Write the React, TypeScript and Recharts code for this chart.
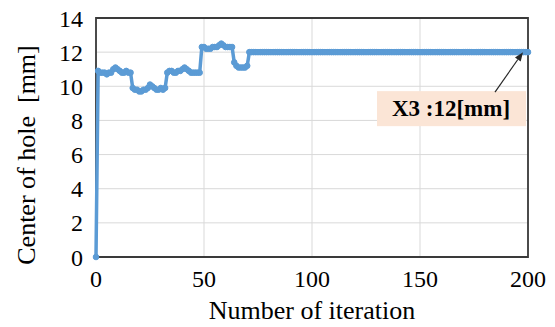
import {
  LineChart,
  Line,
  XAxis,
  YAxis,
  CartesianGrid,
  ReferenceArea,
  ReferenceDot,
} from 'recharts';

// center of hole X3 [mm] per iteration (0..200)
const centerHole = [
  0,
  10.9, 10.8, 10.8, 10.8, 10.7, 10.8, 10.8,
  11.0, 11.1, 11.0,
  10.9, 10.8, 10.8, 10.9, 10.8, 10.8,
  9.9, 9.8, 9.8, 9.7, 9.7, 9.8, 9.8, 9.9,
  10.1, 10.0,
  9.9, 9.8, 9.8, 9.9, 9.8, 9.9,
  10.8, 10.9, 10.9, 10.8, 10.8, 10.9, 10.9,
  11.0, 11.1, 11.0,
  10.9, 10.8, 10.8, 10.8, 10.8, 10.8,
  12.3, 12.3, 12.2, 12.2, 12.2, 12.3, 12.3, 12.3,
  12.4, 12.5, 12.4,
  12.3, 12.3, 12.3, 12.3,
  11.4, 11.2, 11.1, 11.1, 11.1, 11.1, 11.2,
  12, 12, 12, 12, 12, 12, 12, 12, 12, 12,
  12, 12, 12, 12, 12, 12, 12, 12, 12, 12,
  12, 12, 12, 12, 12, 12, 12, 12, 12, 12,
  12, 12, 12, 12, 12, 12, 12, 12, 12, 12,
  12, 12, 12, 12, 12, 12, 12, 12, 12, 12,
  12, 12, 12, 12, 12, 12, 12, 12, 12, 12,
  12, 12, 12, 12, 12, 12, 12, 12, 12, 12,
  12, 12, 12, 12, 12, 12, 12, 12, 12, 12,
  12, 12, 12, 12, 12, 12, 12, 12, 12, 12,
  12, 12, 12, 12, 12, 12, 12, 12, 12, 12,
  12, 12, 12, 12, 12, 12, 12, 12, 12, 12,
  12, 12, 12, 12, 12, 12, 12, 12, 12, 12,
  12, 12, 12, 12, 12, 12, 12, 12, 12, 12,
];

const xTicks = [0, 50, 100, 150, 200];
const yTicks = [0, 2, 4, 6, 8, 10, 12, 14];

const annotationText = 'X3 :12[mm]';
const finalIter = 200;
const finalValue = 12;

const data = centerHole.map((v, i) => ({ iter: i, x3: v }));

const BLUE = '#5b9bd5';
const FONT = '"Liberation Serif", "Times New Roman", serif';

function Callout(props: any) {
  const { cx, cy } = props;
  if (cx == null || cy == null) return null;
  const tipX = cx - 5;
  const tipY = cy;
  const sx = cx - 33;
  const sy = cy + 40;
  const dx = tipX - sx;
  const dy = tipY - sy;
  const len = Math.sqrt(dx * dx + dy * dy);
  const ux = dx / len;
  const uy = dy / len;
  const bx = tipX - ux * 9;
  const by = tipY - uy * 9;
  const px = -uy * 3.5;
  const py = ux * 3.5;
  return (
    <g>
      <rect x={cx - 151} y={cy + 39} width={149} height={35} fill="#fbe5d6" />
      <line x1={sx} y1={sy} x2={bx} y2={by} stroke="#262626" strokeWidth={1.2} />
      <polygon
        points={`${tipX},${tipY} ${bx + px},${by + py} ${bx - px},${by - py}`}
        fill="#262626"
      />
      <text
        x={cx - 77}
        y={cy + 64}
        textAnchor="middle"
        fontFamily={FONT}
        fontWeight="bold"
        fontSize={23}
        fill="#000"
      >
        {annotationText}
      </text>
    </g>
  );
}

export default function App() {
  return (
    <div style={{ position: 'absolute', left: 0, top: 0, width: 555, height: 327, background: '#fff' }}>
      <LineChart
        width={555}
        height={327}
        data={data}
        margin={{ top: 18, right: 27, left: 0, bottom: 40 }}
      >
        <CartesianGrid stroke="#d9d9d9" strokeWidth={1} />
        <XAxis
          dataKey="iter"
          type="number"
          domain={[0, 200]}
          ticks={xTicks}
          interval={0}
          axisLine={false}
          tickLine={false}
          height={30}
          tickMargin={7}
          tick={{ fill: '#000', fontSize: 24, fontFamily: FONT }}
        />
        <YAxis
          type="number"
          domain={[0, 14]}
          ticks={yTicks}
          interval={0}
          axisLine={false}
          tickLine={false}
          width={96}
          tickMargin={7}
          tick={{ fill: '#000', fontSize: 24, fontFamily: FONT }}
        />
        <ReferenceArea
          x1={0}
          x2={200}
          y1={0}
          y2={14}
          fill="none"
          fillOpacity={0}
          stroke="#3a3a3a"
          strokeWidth={1.8}
        />
        <Line
          type="linear"
          dataKey="x3"
          stroke={BLUE}
          strokeWidth={3.5}
          dot={{ r: 2.8, fill: BLUE, stroke: BLUE, strokeWidth: 1 }}
          isAnimationActive={false}
        />
        <ReferenceDot
          x={finalIter}
          y={finalValue}
          r={0}
          ifOverflow="visible"
          shape={(p: any) => <Callout {...p} />}
        />
        <text
          x={312}
          y={319}
          textAnchor="middle"
          fontFamily={FONT}
          fontSize={26}
          fill="#000"
        >
          Number of iteration
        </text>
        <text
          x={35}
          y={155}
          transform="rotate(-90, 35, 155)"
          textAnchor="middle"
          fontFamily={FONT}
          fontSize={26}
          fill="#000"
          style={{ whiteSpace: 'pre' }}
        >
          {'Center of hole  [mm]'}
        </text>
      </LineChart>
    </div>
  );
}
